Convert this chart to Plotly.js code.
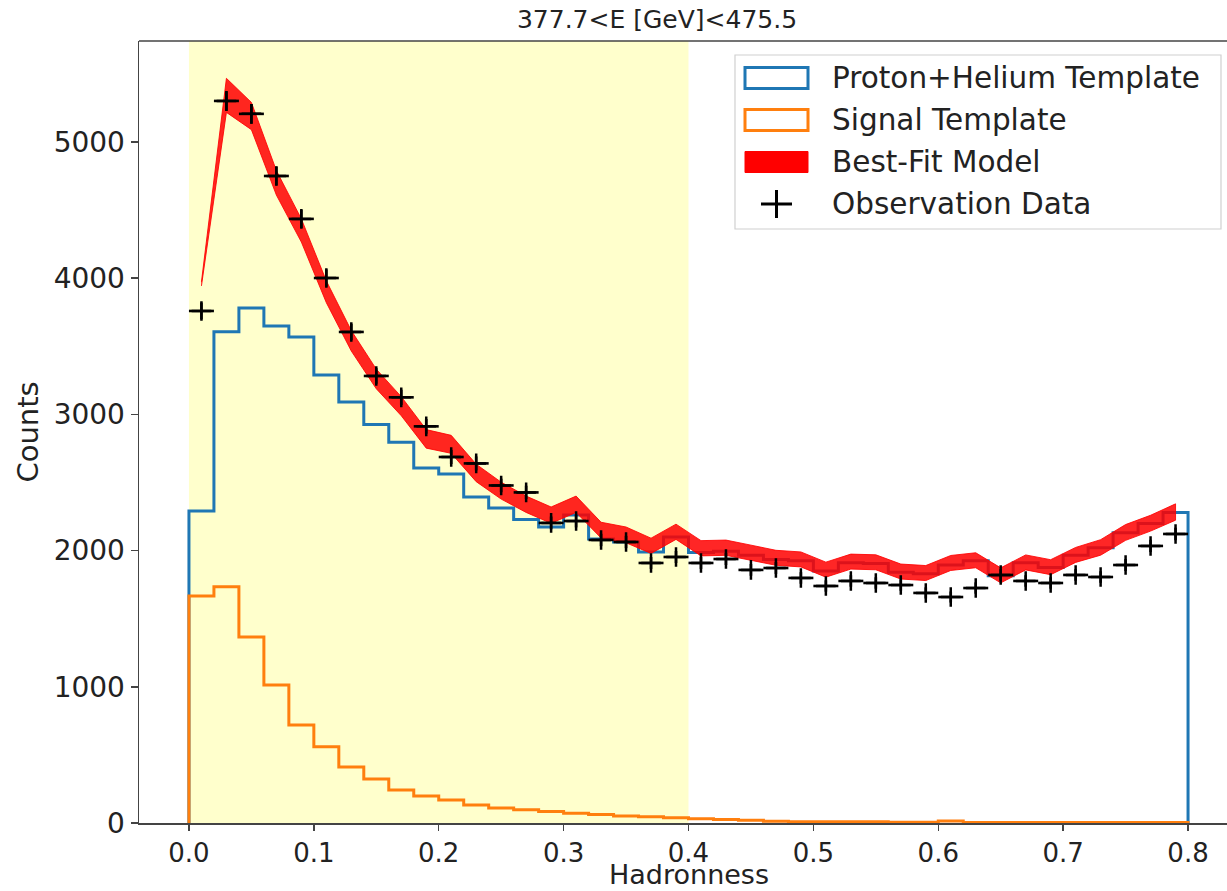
<!DOCTYPE html>
<html>
<head>
<meta charset="utf-8">
<script src="https://cdn.plot.ly/plotly-3.0.1.min.js"></script>
<style>html,body{margin:0;padding:0;background:#fff;}#chart{width:1227px;height:891px;}</style>
</head>
<body>
<div id="chart"></div>
<script>
// ---- data ----
const hadronness = [0.01,0.03,0.05,0.07,0.09,0.11,0.13,0.15,0.17,0.19,0.21,0.23,0.25,0.27,0.29,0.31,0.33,0.35,0.37,0.39,
                    0.41,0.43,0.45,0.47,0.49,0.51,0.53,0.55,0.57,0.59,0.61,0.63,0.65,0.67,0.69,0.71,0.73,0.75,0.77,0.79];
const binWidth = 0.02;
const protonHelium = [2291,3607,3781,3649,3568,3289,3091,2925,2795,2606,2562,2394,2313,2228,2173,2261,2085,2063,1990,2100,
                      1985,1995,1965,1935,1925,1850,1910,1905,1840,1830,1895,1925,1815,1910,1875,1965,2020,2130,2198,2280];
const signal = [1667,1735,1366,1013,720,560,411,323,242,198,169,132,110,98,85,72,62,52,45,38,
                32,26,20,12,10,10,9,9,6,5,14,4,3,3,3,3,3,3,3,3];
const modelFit = [3958,5342,5190,4700,4350,3900,3540,3260,3060,2820,2780,2570,2440,2340,2260,2340,2150,2115,2035,2138,
                  2017,2021,1985,1947,1935,1860,1919,1914,1846,1835,1909,1929,1818,1913,1878,1968,2023,2133,2201,2283];
const modelErr = [15,125,100,90,85,80,75,72,70,68,66,64,62,60,60,60,58,58,56,56,
                  56,56,55,55,55,55,55,55,55,55,55,55,55,55,55,55,57,58,58,60];
const observed = [3759,5301,5206,4750,4435,4001,3605,3282,3125,2912,2687,2640,2478,2427,2203,2217,2078,2063,1909,1953,
                  1909,1938,1858,1872,1799,1740,1777,1762,1747,1689,1659,1725,1821,1777,1762,1821,1806,1894,2034,2122];
const signalRegion = [0.0, 0.4];
const titleText = "377.7<E [GeV]<475.5";
const xLabel = "Hadronness";
const yLabel = "Counts";
const seriesNames = ["Proton+Helium Template", "Signal Template", "Best-Fit Model", "Observation Data"];

// ---- styling ----
const FONT = "DejaVu Sans, Liberation Sans, sans-serif";
const BLUE = '#1f77b4', ORANGE = '#ff7f0e', RED = 'rgba(255,0,0,0.85)';
const W = 1227, H = 891, M = {l:139, r:0, t:41, b:68};
const PW = W - M.l - M.r, PH = H - M.t - M.b;
const px = v => (v - M.l) / PW;          // pixel -> paper x
const py = v => (H - M.b - v) / PH;      // pixel -> paper y

// ---- build step outlines from the bins ----
function stepOutline(values){
  const xs = [hadronness[0]-binWidth/2];
  const ys = [0];
  for (let i=0;i<values.length;i++){ xs.push(hadronness[i]-binWidth/2); ys.push(values[i]); }
  const lastEdge = hadronness[hadronness.length-1]+binWidth/2;
  xs.push(lastEdge); ys.push(values[values.length-1]);
  xs.push(lastEdge); ys.push(0);
  return {xs, ys};
}
const ph = stepOutline(protonHelium);
const sg = stepOutline(signal);
const upper = modelFit.map((v,i)=>v+modelErr[i]);
const lower = modelFit.map((v,i)=>v-modelErr[i]);
const bandX = hadronness.concat(hadronness.slice().reverse());
const bandY = upper.concat(lower.slice().reverse());

const traces = [
  {x: ph.xs, y: ph.ys, type:'scatter', mode:'lines', name:seriesNames[0],
   line:{color:BLUE, width:3, shape:'hv'}, hoverinfo:'skip'},
  {x: sg.xs, y: sg.ys, type:'scatter', mode:'lines', name:seriesNames[1],
   line:{color:ORANGE, width:3, shape:'hv'}, hoverinfo:'skip'},
  {x: bandX, y: bandY, type:'scatter', mode:'lines', name:seriesNames[2],
   line:{color:RED, width:1}, fill:'toself', fillcolor:RED},
  {x: hadronness, y: observed, type:'scatter', mode:'markers', name:seriesNames[3],
   marker:{symbol:'cross-thin', size:14, color:'black', line:{color:'black', width:2.5}},
   error_x:{type:'constant', value:binWidth/2, width:0, thickness:2.6, color:'black'},
   error_y:{type:'sqrt', width:0, thickness:2.6, color:'black'}}
];

// ---- hand-drawn legend (matplotlib style patches) ----
const legBox = {x0:735, x1:1221, y0:55, y1:229};
const rowY = [78, 120, 162, 204];
const handle = {x0:745, x1:808, h:21};
const shapes = [
  {type:'rect', xref:'x', yref:'paper', x0:signalRegion[0], x1:signalRegion[1], y0:0, y1:1,
   fillcolor:'rgba(255,255,0,0.2)', line:{width:0}, layer:'below'},
  {type:'line', xref:'paper', yref:'paper', x0:0, x1:1, y0:1, y1:1, line:{color:'#444', width:1.5}},
  {type:'rect', xref:'paper', yref:'paper', x0:px(legBox.x0), x1:px(legBox.x1), y0:py(legBox.y1), y1:py(legBox.y0),
   fillcolor:'rgba(255,255,255,0.85)', line:{color:'#d0d0d0', width:1.2}},
  {type:'rect', xref:'paper', yref:'paper', x0:px(handle.x0), x1:px(handle.x1), y0:py(rowY[0]+handle.h/2), y1:py(rowY[0]-handle.h/2),
   fillcolor:'rgba(0,0,0,0)', line:{color:BLUE, width:3}},
  {type:'rect', xref:'paper', yref:'paper', x0:px(handle.x0), x1:px(handle.x1), y0:py(rowY[1]+handle.h/2), y1:py(rowY[1]-handle.h/2),
   fillcolor:'rgba(0,0,0,0)', line:{color:ORANGE, width:3}},
  {type:'rect', xref:'paper', yref:'paper', x0:px(handle.x0), x1:px(handle.x1), y0:py(rowY[2]+handle.h/2), y1:py(rowY[2]-handle.h/2),
   fillcolor:'#ff0000', line:{color:'#ff0000', width:1}},
  {type:'line', xref:'paper', yref:'paper', x0:px(761), x1:px(792), y0:py(rowY[3]), y1:py(rowY[3]), line:{color:'black', width:3}},
  {type:'line', xref:'paper', yref:'paper', x0:px(776.5), x1:px(776.5), y0:py(rowY[3]-14), y1:py(rowY[3]+14), line:{color:'black', width:3}}
];
const annotations = seriesNames.map((n,i)=>({
  text:n, xref:'paper', yref:'paper', x:px(830), y:py(rowY[i]), xanchor:'left', yanchor:'middle',
  showarrow:false, font:{family:FONT, size:29.5, color:'#222'}
}));
// x-axis label placed at the reference position
annotations.push({text:xLabel, xref:'paper', yref:'paper', x:px(689), y:py(874), xanchor:'center', yanchor:'middle',
  showarrow:false, font:{family:FONT, size:27, color:'#222'}});

const layout = {
  width:W, height:H,
  margin:M,
  paper_bgcolor:'#fff', plot_bgcolor:'#fff',
  font:{family:FONT, size:28, color:'#222'},
  title:{text:titleText, font:{family:FONT, size:25, color:'#222'}, x:px(657), xref:'paper', xanchor:'center', y:0.978, yanchor:'middle'},
  xaxis:{range:[-0.04, 0.8312], tick0:0, dtick:0.1, tickformat:'.1f', ticks:'outside', ticklen:6, tickwidth:1.5, tickcolor:'#444',
         showline:true, linecolor:'#444', linewidth:1.5, showgrid:false, zeroline:false,
         tickfont:{size:26, color:'#222'}, automargin:false},
  yaxis:{range:[0, 5741], dtick:1000, tickformat:'d', ticks:'outside', ticklen:7, tickwidth:1.5, tickcolor:'#444',
         showline:true, linecolor:'#444', linewidth:1.5, showgrid:false, zeroline:false,
         tickfont:{size:28, color:'#222'},
         title:{text:yLabel, font:{size:29, color:'#222'}, standoff:6}, automargin:false},
  shapes: shapes,
  annotations: annotations,
  showlegend:false
};
Plotly.newPlot('chart', traces, layout, {displayModeBar:false, staticPlot:true});
</script>
</body>
</html>
